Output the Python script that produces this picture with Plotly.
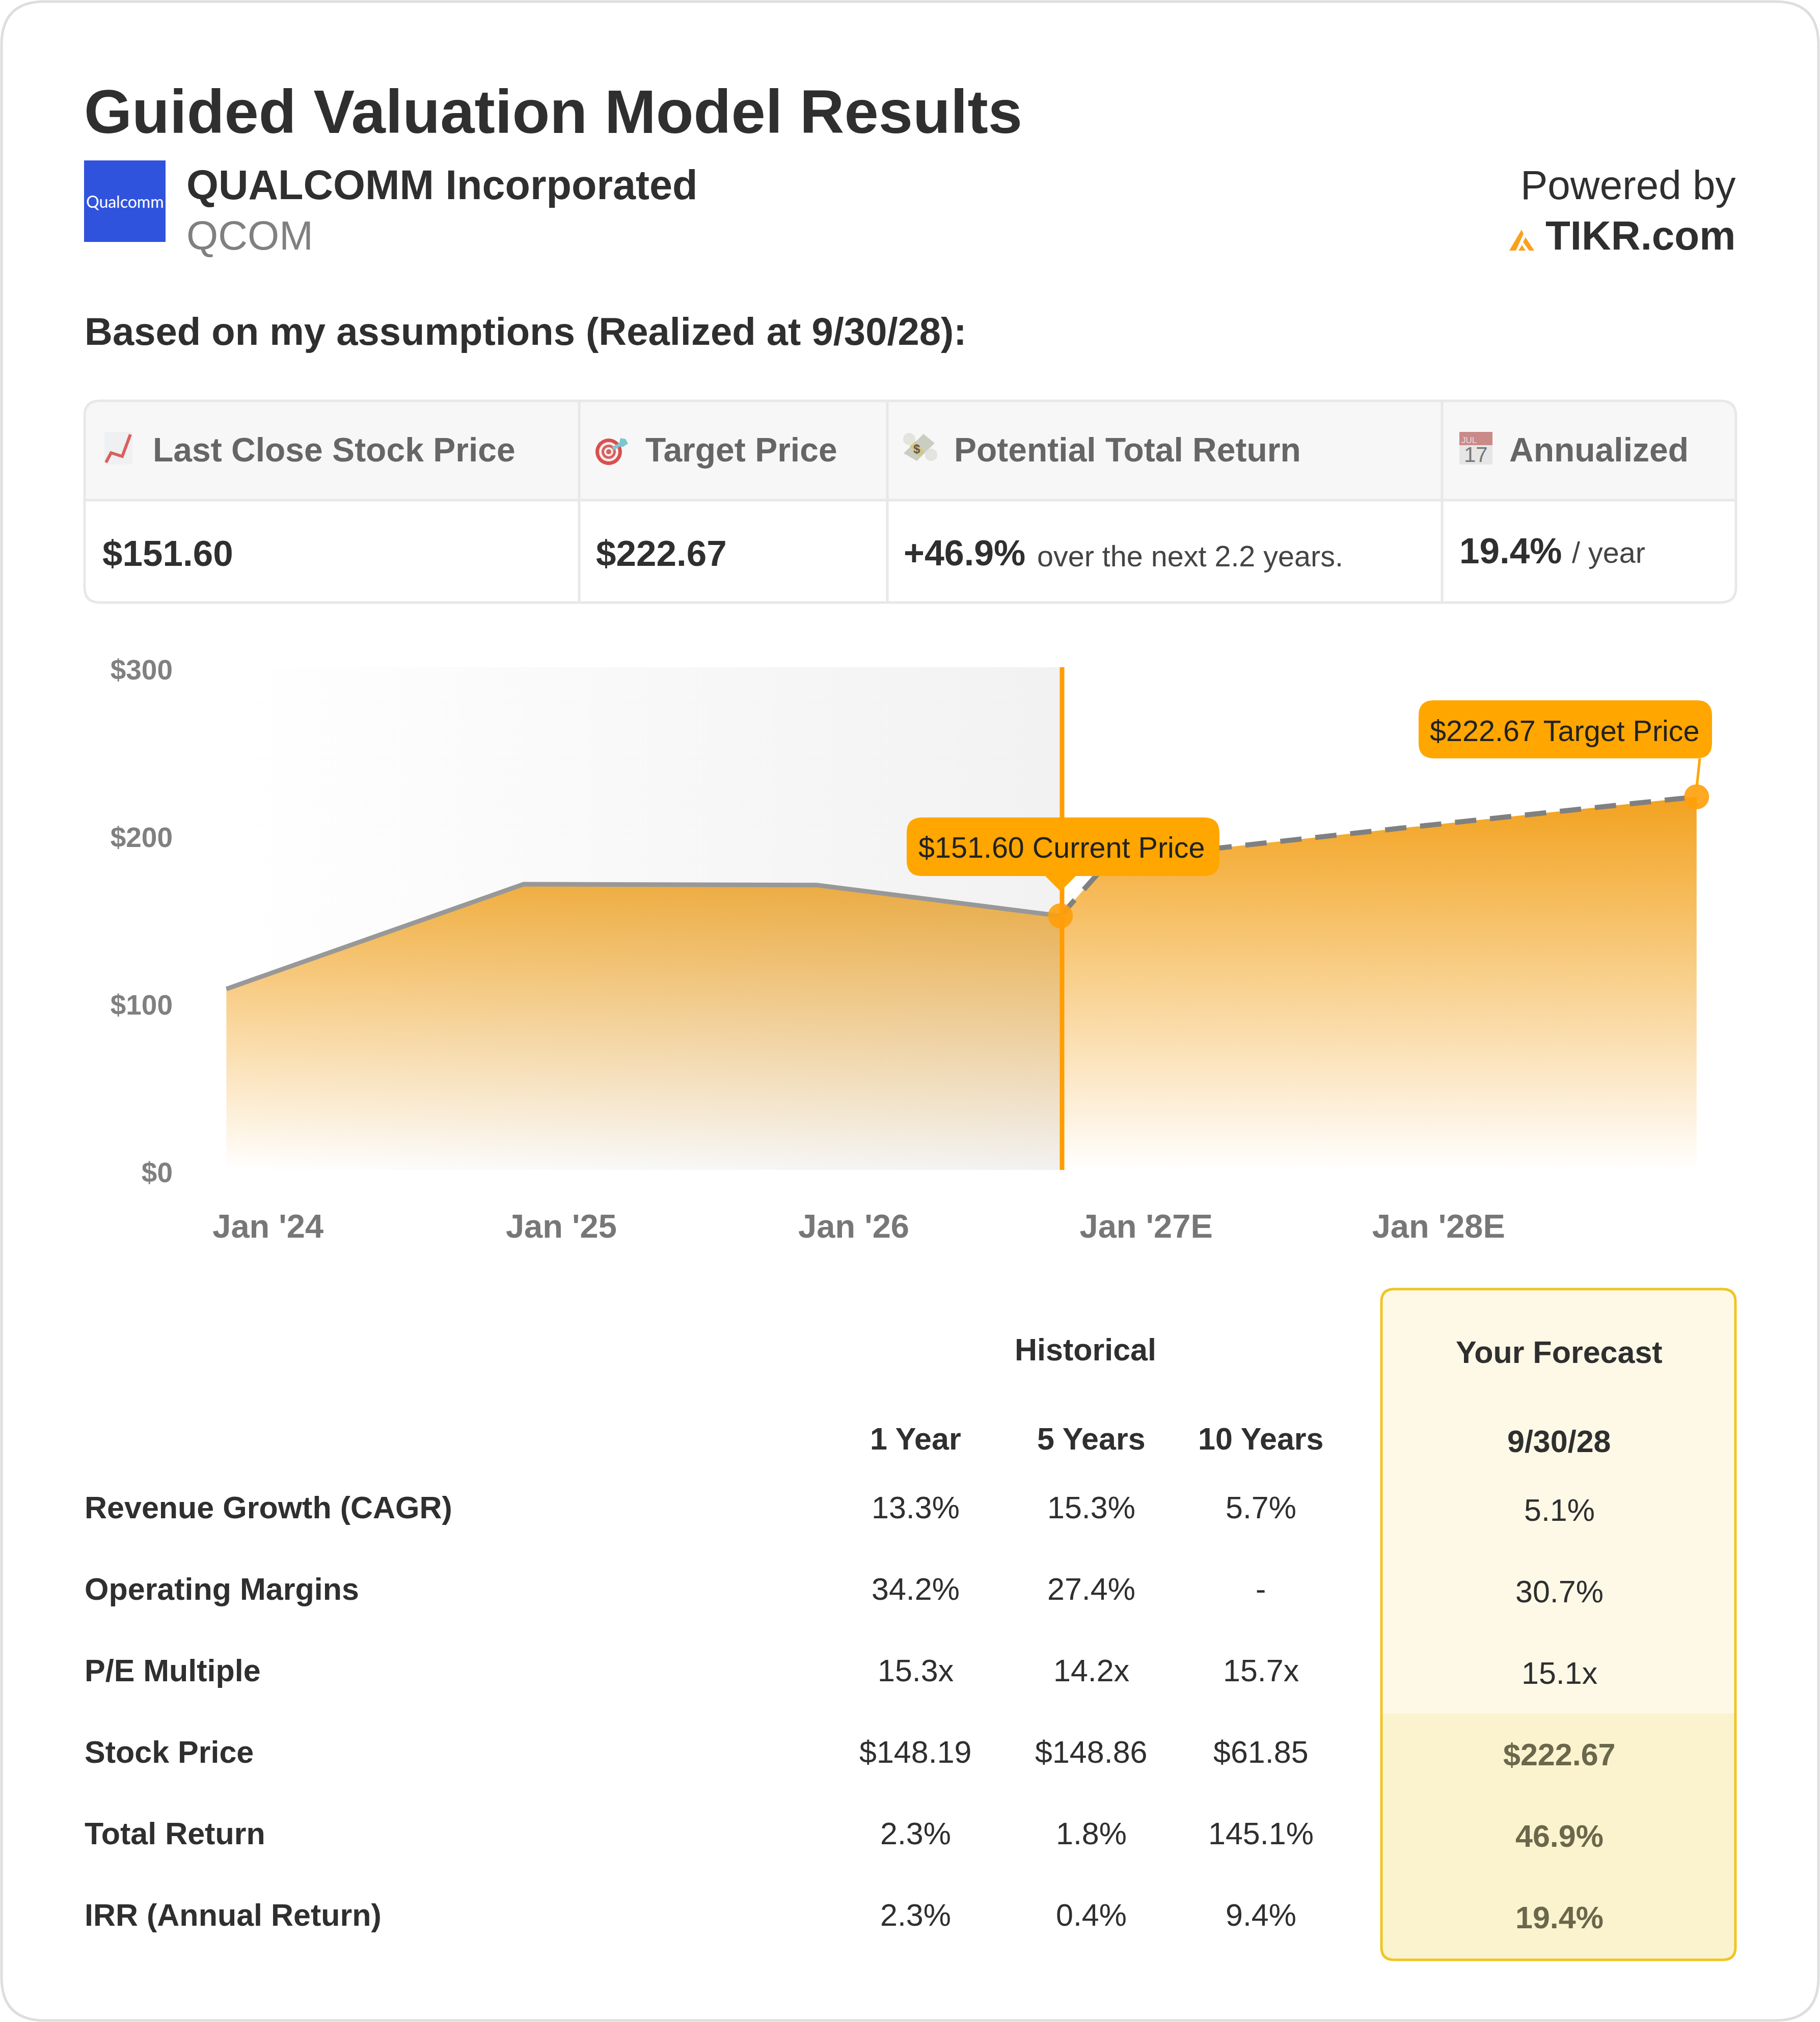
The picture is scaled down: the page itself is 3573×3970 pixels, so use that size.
"""Guided valuation card: price history, forecast and comparison table."""

import plotly.graph_objects as go

W, H = 3573, 3970
FONT = "Liberation Sans"

# chart data
hist_dates = ["2023-11-10", "2024-11-15", "2025-11-16", "2026-09-16"]
hist_prices = [108, 170.5, 170, 151.6]
fc_dates = ["2026-09-16", "2026-11-17", "2027-11-16", "2028-11-18"]
fc_prices = [151.6, 185, 204, 222.67]
band_dates = ["2023-11-10", "2026-09-18", "2026-09-18", "2023-11-10", "2023-11-10"]
band_prices = [0, 0, 300, 300, 0]
now_dates = ["2026-09-18", "2026-09-18"]
now_prices = [0, 300]
x_ticks = ["2024-01-01", "2025-01-01", "2026-01-01", "2027-01-01", "2028-01-01"]
x_labels = ["Jan '24", "Jan '25", "Jan '26", "Jan '27E", "Jan '28E"]
y_ticks = [0, 100, 200, 300]
y_labels = ["$0", "$100", "$200", "$300"]

# summary strip
summary_heads = ["Last Close Stock Price", "Target Price", "Potential Total Return", "Annualized"]

# comparison table
row_names = [
    "Revenue Growth (CAGR)",
    "Operating Margins",
    "P/E Multiple",
    "Stock Price",
    "Total Return",
    "IRR (Annual Return)",
]
one_year = ["13.3%", "34.2%", "15.3x", "$148.19", "2.3%", "2.3%"]
five_years = ["15.3%", "27.4%", "14.2x", "$148.86", "1.8%", "0.4%"]
ten_years = ["5.7%", "-", "15.7x", "$61.85", "145.1%", "9.4%"]
forecast = ["5.1%", "30.7%", "15.1x", "$222.67", "46.9%", "19.4%"]


def px(x):
    return x / W


def py(y):
    return 1 - y / H


def path_from(points, close=True):
    parts = [f"{'M' if i == 0 else 'L'}{px(x):.6f},{py(y):.6f}" for i, (x, y) in enumerate(points)]
    return " ".join(parts) + (" Z" if close else "")


def rounded_path(x0, y0, x1, y1, r):
    return (
        f"M{px(x0 + r):.6f},{py(y0):.6f} L{px(x1 - r):.6f},{py(y0):.6f} "
        f"Q{px(x1):.6f},{py(y0):.6f} {px(x1):.6f},{py(y0 + r):.6f} "
        f"L{px(x1):.6f},{py(y1 - r):.6f} "
        f"Q{px(x1):.6f},{py(y1):.6f} {px(x1 - r):.6f},{py(y1):.6f} "
        f"L{px(x0 + r):.6f},{py(y1):.6f} "
        f"Q{px(x0):.6f},{py(y1):.6f} {px(x0):.6f},{py(y1 - r):.6f} "
        f"L{px(x0):.6f},{py(y0 + r):.6f} "
        f"Q{px(x0):.6f},{py(y0):.6f} {px(x0 + r):.6f},{py(y0):.6f} Z"
    )


def top_rounded_path(x0, y0, x1, y1, r):
    return (
        f"M{px(x0):.6f},{py(y1):.6f} L{px(x0):.6f},{py(y0 + r):.6f} "
        f"Q{px(x0):.6f},{py(y0):.6f} {px(x0 + r):.6f},{py(y0):.6f} "
        f"L{px(x1 - r):.6f},{py(y0):.6f} "
        f"Q{px(x1):.6f},{py(y0):.6f} {px(x1):.6f},{py(y0 + r):.6f} "
        f"L{px(x1):.6f},{py(y1):.6f} Z"
    )


def bottom_rounded_path(x0, y0, x1, y1, r):
    return (
        f"M{px(x0):.6f},{py(y0):.6f} L{px(x1):.6f},{py(y0):.6f} "
        f"L{px(x1):.6f},{py(y1 - r):.6f} "
        f"Q{px(x1):.6f},{py(y1):.6f} {px(x1 - r):.6f},{py(y1):.6f} "
        f"L{px(x0 + r):.6f},{py(y1):.6f} "
        f"Q{px(x0):.6f},{py(y1):.6f} {px(x0):.6f},{py(y1 - r):.6f} Z"
    )


shapes = []
annotations = []


def add_path(path, fill="rgba(0,0,0,0)", line=None, width=0, layer="below"):
    shapes.append(
        dict(
            type="path",
            path=path,
            xref="paper",
            yref="paper",
            fillcolor=fill,
            line=dict(color=line or "rgba(0,0,0,0)", width=width),
            layer=layer,
        )
    )


def add_line(x0, y0, x1, y1, color, width, layer="below"):
    shapes.append(
        dict(
            type="line",
            xref="paper",
            yref="paper",
            x0=px(x0),
            y0=py(y0),
            x1=px(x1),
            y1=py(y1),
            line=dict(color=color, width=width),
            layer=layer,
        )
    )


def add_circle(cx, cy, r, fill, layer="below"):
    shapes.append(
        dict(
            type="circle",
            xref="paper",
            yref="paper",
            x0=px(cx - r),
            y0=py(cy + r),
            x1=px(cx + r),
            y1=py(cy - r),
            fillcolor=fill,
            line=dict(width=0),
            layer=layer,
        )
    )


def add_text(x, y, text, size, color="#2f2f2f", weight=400, anchor="left", family=FONT):
    annotations.append(
        dict(
            x=px(x),
            y=py(y),
            xref="paper",
            yref="paper",
            text=text,
            showarrow=False,
            xanchor=anchor,
            yanchor="middle",
            borderpad=0,
            font=dict(family=family, size=size, color=color, weight=weight),
        )
    )


# card
add_path(rounded_path(3, 3, 3570, 3967, 85), fill="#ffffff", line="#dedede", width=5)

# heading block
add_text(164, 219, "Guided Valuation Model Results", 121, weight=700)
add_path(path_from([(165, 315), (325, 315), (325, 475), (165, 475)]), fill="#3053de")
add_text(245, 395, "Qualcomm", 32, color="#ffffff", anchor="center", family="Lato")
add_text(365, 363, "QUALCOMM Incorporated", 81, weight=700)
add_text(365, 462, "QCOM", 80, color="#808080")
add_text(3408, 363, "Powered by", 80, anchor="right")
add_text(3408, 462, "TIKR.com", 80, weight=700, anchor="right")
tikr_orange = "#f9a11b"
add_path(path_from([(2987, 451), (2991, 459), (2976, 492), (2963, 492)]), fill=tikr_orange)
add_path(path_from([(2995, 466), (3012, 492), (3002, 492), (2990, 475)]), fill=tikr_orange)
add_path(path_from([(2988, 481), (2995, 492), (2981, 492)]), fill=tikr_orange)
add_text(165, 650, "Based on my assumptions (Realized at 9/30/28):", 76, weight=700)

# summary strip
add_path(top_rounded_path(166, 787, 3408, 982, 30), fill="#f7f7f7")
add_path(rounded_path(166, 787, 3408, 1183, 30), line="#e8e8e8", width=5)
add_line(166, 982, 3408, 982, "#e8e8e8", 5)
for divider_x in [1137, 1742, 2831]:
    add_line(divider_x, 787, divider_x, 1183, "#e8e8e8", 5)
for head_x, head in zip([299, 1266, 1872, 2962], summary_heads):
    add_text(head_x, 883, head, 66, color="#666666", weight=700)
add_text(200, 1086, "$151.60", 71, weight=700)
add_text(1169, 1086, "$222.67", 71, weight=700)
add_text(1773, 1086, "+46.9%", 70, weight=700)
add_text(2035, 1092, "over the next 2.2 years.", 57.5, color="#444444")
add_text(2864, 1081, "19.4%", 71, weight=700)
add_text(3085, 1085, "/ year", 57.5, color="#444444")

# emoji stand-ins
add_path(path_from([(205, 848), (260, 848), (260, 912), (205, 912)]), fill="#eef0f2")
add_path(path_from([(208, 908), (218, 889), (240, 896), (256, 853)], close=False), line="#d9605f", width=6)
add_circle(1195, 887, 26, "#d8504f")
add_circle(1195, 887, 19, "#f8eeee")
add_circle(1195, 887, 14, "#d8605f")
add_circle(1195, 887, 9, "#f8eeee")
add_circle(1195, 887, 5, "#d8605f")
add_path(path_from([(1203, 881), (1222, 870)], close=False), line="#7cc6d0", width=7)
add_path(path_from([(1215, 874), (1218, 860), (1228, 862), (1233, 871), (1222, 878)]), fill="#7cc6d0")
add_path(path_from([(1774, 890), (1813, 852), (1835, 870), (1800, 905)]), fill="#c9cfc0")
add_path(path_from([(1796, 866), (1815, 887), (1805, 897), (1786, 876)]), fill="#d8c48a")
add_circle(1785, 862, 12, "#e2e4de")
add_circle(1828, 893, 12, "#e2e4de")
add_text(1800, 881, "$", 24, color="#5a5a4a", weight=700, anchor="center")
add_path(path_from([(2865, 848), (2930, 848), (2930, 874), (2865, 874)]), fill="#c98a88")
add_path(path_from([(2865, 874), (2930, 874), (2930, 912), (2865, 912)]), fill="#e6e6e6")
add_text(2868, 864, "JUL", 17, color="#f2dddd")
add_text(2897, 893, "17", 42, color="#777777", anchor="center")

# comparison table
add_path(top_rounded_path(2712, 2531, 3407, 3364, 25), fill="#fef9e7")
add_path(bottom_rounded_path(2712, 3364, 3407, 3848, 25), fill="#fbf3cd")
add_path(rounded_path(2712, 2531, 3407, 3848, 25), line="#f0c525", width=5)

add_text(2131, 2650, "Historical", 61, weight=700, anchor="center")
add_text(3061, 2655, "Your Forecast", 61, weight=700, anchor="center")
for col_x, head in zip([1798, 2142, 2475], ["1 Year", "5 Years", "10 Years"]):
    add_text(col_x, 2825, head, 61, weight=700, anchor="center")
add_text(3061, 2830, "9/30/28", 61, weight=700, anchor="center")

row_ys = [2960, 3120, 3280, 3440, 3600, 3760]
for i, row_y in enumerate(row_ys):
    add_text(165, row_y, row_names[i], 61, weight=700)
    add_text(1798, row_y, one_year[i], 61, anchor="center")
    add_text(2142, row_y, five_years[i], 61, anchor="center")
    add_text(2475, row_y, ten_years[i], 61, anchor="center")
    if i < 3:
        add_text(3061, row_y + 5, forecast[i], 61, anchor="center")
    else:
        add_text(3061, row_y + 5, forecast[i], 61, color="#6b674c", weight=700, anchor="center")

# callouts
callout_orange = "#ffa600"
add_path(rounded_path(1780, 1605, 2394, 1720, 30), fill=callout_orange, layer="above")
add_path(path_from([(2052, 1720), (2112, 1720), (2082, 1750)]), fill=callout_orange, layer="above")
add_text(2084, 1664, "$151.60 Current Price", 57.5, color="#222222", anchor="center")
add_path(rounded_path(2785, 1375, 3361, 1489, 30), fill=callout_orange, layer="above")
add_line(3337, 1489, 3331, 1545, callout_orange, 5, layer="above")
add_text(3072, 1435, "$222.67 Target Price", 57.5, color="#222222", anchor="center")

fig = go.Figure()
fig.add_trace(
    go.Scatter(
        x=hist_dates,
        y=hist_prices,
        mode="none",
        fill="tozeroy",
        fillgradient=dict(
            type="vertical",
            start=0,
            stop=200,
            colorscale=[[0, "rgba(242,162,30,0)"], [1, "rgba(242,162,30,1)"]],
        ),
    )
)
fig.add_trace(
    go.Scatter(
        x=band_dates,
        y=band_prices,
        mode="none",
        fill="toself",
        fillgradient=dict(
            type="horizontal",
            colorscale=[[0, "rgba(120,120,120,0)"], [1, "rgba(120,120,120,0.10)"]],
        ),
    )
)
fig.add_trace(
    go.Scatter(
        x=hist_dates,
        y=hist_prices,
        mode="lines",
        line=dict(color="#989898", width=9),
    )
)
fig.add_trace(
    go.Scatter(
        x=fc_dates,
        y=fc_prices,
        mode="none",
        fill="tozeroy",
        fillgradient=dict(
            type="vertical",
            start=0,
            stop=222.67,
            colorscale=[[0, "rgba(242,162,30,0)"], [1, "rgba(242,162,30,1)"]],
        ),
    )
)
fig.add_trace(
    go.Scatter(
        x=fc_dates,
        y=fc_prices,
        mode="lines",
        line=dict(color="#808080", width=10, dash="42px,27px"),
    )
)
fig.add_trace(
    go.Scatter(
        x=now_dates,
        y=now_prices,
        mode="lines",
        line=dict(color="#ff9d00", width=9),
    )
)
fig.add_trace(
    go.Scatter(
        x=[hist_dates[-1], fc_dates[-1]],
        y=[hist_prices[-1], fc_prices[-1]],
        mode="markers",
        marker=dict(color="#ff9f0a", size=49, opacity=0.9, line=dict(width=0)),
        cliponaxis=False,
    )
)

fig.update_layout(
    width=W,
    height=H,
    margin=dict(l=0, r=0, t=0, b=0, autoexpand=False),
    paper_bgcolor="#ffffff",
    plot_bgcolor="rgba(0,0,0,0)",
    showlegend=False,
    hovermode=False,
    font=dict(family=FONT),
    shapes=shapes,
    annotations=annotations,
    xaxis=dict(
        domain=[px(350), px(3400)],
        type="date",
        range=["2023-09-11", "2029-01-01"],
        tickvals=x_ticks,
        ticktext=x_labels,
        tickfont=dict(family=FONT, size=65, color="#777777", weight=700),
        ticklabelstandoff=67,
        showgrid=False,
        zeroline=False,
        showline=False,
        ticks="",
    ),
    yaxis=dict(
        domain=[py(2297), py(1310)],
        range=[0, 300],
        tickvals=y_ticks,
        ticktext=y_labels,
        tickfont=dict(family=FONT, size=55, color="#808080", weight=700),
        ticklabelshift=5,
        ticklabelstandoff=10,
        showgrid=False,
        zeroline=False,
        showline=False,
        ticks="",
    ),
)

fig.write_html(
    "out.html",
    config={"displayModeBar": False},
    post_script="document.body.style.margin='0';",
)
